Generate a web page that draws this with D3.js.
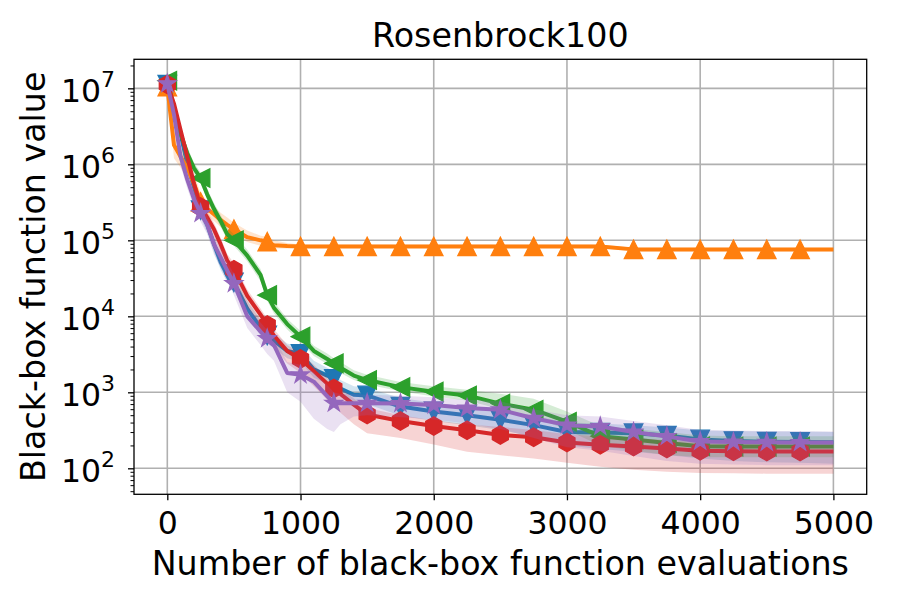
<!DOCTYPE html>
<html>
<head>
<meta charset="utf-8">
<script src="https://cdn.jsdelivr.net/npm/d3@7"></script>
<style>
    body { margin: 0; background: #fff; }
    svg { font-family: "DejaVu Sans", sans-serif; }
</style>
</head>
<body>
<svg id="chart" width="900" height="600"></svg>
<script>
const evals = [0, 50, 100, 150, 200, 250, 300, 350, 400, 450, 500, 600, 700, 750, 800, 900, 1000, 1100, 1200, 1250, 1300, 1400, 1500, 1750, 2000, 2250, 2500, 2750, 3000, 3250, 3500, 3750, 4000, 4250, 4500, 4750, 5000];
const markerEvals = [0, 250, 500, 750, 1000, 1250, 1500, 1750, 2000, 2250, 2500, 2750, 3000, 3250, 3500, 3750, 4000, 4250, 4500, 4750];
const xTicks = [0, 1000, 2000, 3000, 4000, 5000];
const yTicks = [1e2, 1e3, 1e4, 1e5, 1e6, 1e7];

const blueMean = [1.12e7, 5.6e6, 2.5e6, 1.0e6, 5.0e5, 2.5e5, 1.6e5, 8.9e4, 5.2e4, 3.5e4, 2.8e4, 1.26e4, 7.1e3, 5.6e3, 4.8e3, 3.5e3, 3.2e3, 2.0e3, 1.66e3, 1.5e3, 1.12e3, 930, 910, 650, 560, 500, 435, 370, 300, 295, 290, 270, 240, 228, 224, 222, 220];
const blueLo = [1.0e7, 4.6e6, 2.0e6, 8.0e5, 4.0e5, 2.0e5, 1.25e5, 7.0e4, 4.1e4, 2.8e4, 2.2e4, 1.0e4, 5.6e3, 4.4e3, 3.8e3, 2.8e3, 2.5e3, 1.55e3, 1.3e3, 1.15e3, 870, 720, 700, 490, 420, 370, 320, 260, 200, 180, 165, 150, 135, 125, 120, 118, 115];
const blueHi = [1.25e7, 6.8e6, 3.1e6, 1.25e6, 6.2e5, 3.1e5, 2.0e5, 1.1e5, 6.5e4, 4.4e4, 3.5e4, 1.6e4, 9.0e3, 7.0e3, 6.0e3, 4.4e3, 4.0e3, 2.6e3, 2.1e3, 1.9e3, 1.45e3, 1.2e3, 1.15e3, 840, 730, 650, 570, 490, 400, 390, 370, 345, 315, 310, 305, 305, 300];

const orangeMean = [1.05e7, 1.8e6, 1.26e6, 8.9e5, 5.6e5, 3.2e5, 2.6e5, 2.2e5, 1.86e5, 1.6e5, 1.4e5, 1.1e5, 1.0e5, 9.6e4, 8.6e4, 8.4e4, 8.3e4, 8.3e4, 8.3e4, 8.3e4, 8.3e4, 8.3e4, 8.3e4, 8.3e4, 8.3e4, 8.3e4, 8.3e4, 8.3e4, 8.3e4, 8.3e4, 7.6e4, 7.6e4, 7.6e4, 7.6e4, 7.6e4, 7.6e4, 7.6e4];
const orangeLo = [9.5e6, 1.2e6, 9.0e5, 6.5e5, 4.0e5, 2.6e5, 2.1e5, 1.8e5, 1.5e5, 1.3e5, 1.15e5, 9.5e4, 8.5e4, 8.3e4, 7.8e4, 7.8e4, 7.9e4, 7.9e4, 7.9e4, 7.9e4, 7.9e4, 7.9e4, 7.9e4, 7.9e4, 7.9e4, 7.9e4, 7.9e4, 7.9e4, 7.9e4, 7.9e4, 7.2e4, 7.2e4, 7.2e4, 7.2e4, 7.2e4, 7.2e4, 7.2e4];
const orangeHi = [1.15e7, 2.8e6, 1.7e6, 1.2e6, 7.5e5, 4.2e5, 3.3e5, 2.8e5, 2.3e5, 2.0e5, 1.7e5, 1.35e5, 1.15e5, 1.12e5, 1.0e5, 9.2e4, 8.8e4, 8.8e4, 8.8e4, 8.8e4, 8.8e4, 8.8e4, 8.8e4, 8.8e4, 8.8e4, 8.8e4, 8.8e4, 8.8e4, 8.8e4, 8.8e4, 8.0e4, 8.0e4, 8.0e4, 8.0e4, 8.0e4, 8.0e4, 8.0e4];

const greenMean = [1.26e7, 5.6e6, 2.5e6, 1.4e6, 8.9e5, 6.6e5, 4.0e5, 2.6e5, 1.8e5, 1.2e5, 1.0e5, 6.3e4, 3.5e4, 1.9e4, 1.3e4, 7.9e3, 5.4e3, 3.5e3, 2.75e3, 2.4e3, 2.1e3, 1.66e3, 1.45e3, 1.17e3, 1.02e3, 910, 710, 590, 410, 265, 240, 215, 195, 193, 193, 193, 193];
const greenLo = [1.1e7, 4.6e6, 2.1e6, 1.2e6, 7.5e5, 5.6e5, 3.4e5, 2.2e5, 1.5e5, 1.0e5, 8.5e4, 5.3e4, 2.9e4, 1.6e4, 1.1e4, 6.7e3, 4.6e3, 3.0e3, 2.35e3, 2.05e3, 1.8e3, 1.45e3, 1.27e3, 1.03e3, 880, 780, 600, 480, 320, 200, 170, 150, 140, 140, 140, 140, 140];
const greenHi = [1.4e7, 6.8e6, 3.0e6, 1.7e6, 1.05e6, 7.8e5, 4.8e5, 3.1e5, 2.15e5, 1.45e5, 1.2e5, 7.5e4, 4.2e4, 2.3e4, 1.55e4, 9.3e3, 6.4e3, 4.1e3, 3.25e3, 2.8e3, 2.5e3, 1.95e3, 1.7e3, 1.37e3, 1.2e3, 1.08e3, 960, 820, 560, 360, 330, 300, 270, 265, 265, 265, 265];

const redMean = [1.12e7, 6.3e6, 2.8e6, 1.26e6, 5.6e5, 2.75e5, 2.0e5, 1.4e5, 8.9e4, 5.4e4, 4.1e4, 1.86e4, 1.05e4, 7.7e3, 5.6e3, 3.5e3, 2.75e3, 1.9e3, 1.3e3, 1.12e3, 950, 690, 510, 420, 360, 316, 275, 257, 219, 204, 193, 182, 170, 168, 166, 166, 166];
const redLo = [9.5e6, 5.0e6, 2.2e6, 1.0e6, 4.4e5, 2.2e5, 1.55e5, 1.05e5, 6.8e4, 4.0e4, 3.0e4, 1.35e4, 7.5e3, 5.4e3, 3.9e3, 2.4e3, 1.8e3, 1.2e3, 800, 660, 540, 380, 290, 250, 205, 165, 148, 135, 118, 105, 96, 90, 87, 86, 85, 85, 85];
const redHi = [1.3e7, 7.5e6, 3.4e6, 1.5e6, 6.8e5, 3.3e5, 2.4e5, 1.7e5, 1.08e5, 6.6e4, 5.0e4, 2.25e4, 1.27e4, 9.3e3, 6.8e3, 4.2e3, 3.3e3, 2.3e3, 1.55e3, 1.35e3, 1.15e3, 830, 620, 500, 430, 380, 350, 320, 280, 265, 250, 235, 220, 215, 212, 212, 212];

const purpleMean = [1.15e7, 4.5e6, 1.26e6, 6.3e5, 3.5e5, 2.26e5, 1.6e5, 8.9e4, 6.0e4, 4.0e4, 2.7e4, 1.0e4, 6.3e3, 5.1e3, 4.2e3, 1.8e3, 1.7e3, 1.38e3, 890, 720, 720, 720, 720, 715, 680, 620, 590, 455, 370, 355, 300, 263, 226, 222, 220, 219, 219];
const purpleLo = [1.0e7, 3.5e6, 9.5e5, 4.8e5, 2.7e5, 1.75e5, 1.2e5, 6.5e4, 4.4e4, 2.9e4, 1.9e4, 7.0e3, 4.2e3, 3.2e3, 2.6e3, 1.0e3, 750, 450, 330, 300, 380, 480, 500, 470, 440, 390, 330, 250, 190, 170, 145, 125, 115, 112, 110, 110, 110];
const purpleHi = [1.3e7, 5.8e6, 1.7e6, 8.0e5, 4.5e5, 2.9e5, 2.1e5, 1.2e5, 8.0e4, 5.3e4, 3.6e4, 1.35e4, 8.3e3, 6.6e3, 5.4e3, 2.5e3, 2.3e3, 1.85e3, 1.25e3, 1.0e3, 950, 950, 930, 900, 860, 800, 760, 600, 500, 480, 420, 370, 320, 315, 310, 308, 305];

const series = [
    {mean: blueMean, lo: blueLo, hi: blueHi, color: "#1f77b4", marker: "v"},
    {mean: orangeMean, lo: orangeLo, hi: orangeHi, color: "#ff7f0e", marker: "^"},
    {mean: greenMean, lo: greenLo, hi: greenHi, color: "#2ca02c", marker: "<"},
    {mean: redMean, lo: redLo, hi: redHi, color: "#d62728", marker: "h"},
    {mean: purpleMean, lo: purpleLo, hi: purpleHi, color: "#9467bd", marker: "*"}
];

// matplotlib-like marker outlines, s = marker size in px
function markerPath(type, s) {
    const r = s / 2;
    let pts;
    if (type === "^") pts = [[0, -r], [-r, r], [r, r]];
    else if (type === "v") pts = [[0, r], [-r, -r], [r, -r]];
    else if (type === "<") pts = [[-r, 0], [r, -r], [r, r]];
    else if (type === "h") pts = d3.range(6).map(i => {
        const a = Math.PI / 2 + i * Math.PI / 3;
        return [r * Math.cos(a), -r * Math.sin(a)];
    });
    else pts = d3.range(10).map(i => {
        const a = Math.PI / 2 + i * Math.PI / 5, rr = i % 2 ? r * 0.381966 : r;
        return [rr * Math.cos(a), -rr * Math.sin(a)];
    });
    return "M" + pts.map(p => p.join(",")).join("L") + "Z";
}

class convergencePlot {
    constructor(series, rootId, dimension = {width: 900, height: 600},
                padding = {top: 59.3, right: 33.3, bottom: 105.7, left: 134}) {
        this.series = series;
        this.rootId = rootId;
        this.dimension = dimension;
        this.padding = padding;
        this.updateDimensions();
        this.createScale();
        this.render();
    }
    updateDimensions() {
        this.dimension.innerWidth = this.dimension.width - this.padding.left - this.padding.right;
        this.dimension.innerHeight = this.dimension.height - this.padding.top - this.padding.bottom;
    }
    createScale() {
        this.scale = {
            x: d3.scaleLinear().domain([-250, 5250]).range([0, this.dimension.innerWidth]),
            y: d3.scaleLog().domain([45.5, 2.41e7]).range([this.dimension.innerHeight, 0])
        };
    }
    render() {
        const scale = this.scale;
        const svg = d3.select(`#${this.rootId}`)
            .append("g")
            .attr("id", `${this.rootId}-g`)
            .attr("transform", `translate(${this.padding.left}, ${this.padding.top})`);

        svg.append("clipPath")
            .attr("id", "plot-clip")
            .append("rect")
            .attr("width", this.dimension.innerWidth)
            .attr("height", this.dimension.innerHeight);

        this._grid(svg);

        const area = d3.area()
            .x((d, i) => scale.x(evals[i]))
            .y0(d => scale.y(d[0]))
            .y1(d => scale.y(d[1]));
        const line = d3.line()
            .x((d, i) => scale.x(evals[i]))
            .y(d => scale.y(d));

        const plot = svg.append("g").attr("clip-path", "url(#plot-clip)");

        this.series.forEach(s => {
            const g = plot.append("g").attr("class", "series");
            g.append("path")
                .attr("d", area(s.lo.map((v, i) => [v, s.hi[i]])))
                .attr("fill", s.color)
                .attr("fill-opacity", 0.2)
                .attr("stroke", "none");
            g.append("path")
                .attr("d", line(s.mean))
                .attr("fill", "none")
                .attr("stroke", s.color)
                .attr("stroke-width", 4)
                .attr("stroke-linejoin", "round");
            g.selectAll(".mk")
                .data(markerEvals)
                .enter()
                .append("path")
                .attr("class", "mk")
                .attr("transform", e => `translate(${scale.x(e)}, ${scale.y(s.mean[evals.indexOf(e)])})`)
                .attr("d", markerPath(s.marker, 18.5))
                .attr("fill", s.color)
                .attr("stroke", s.color)
                .attr("stroke-width", 1.3)
                .attr("stroke-linejoin", "miter");
        });

        this._axis(svg);
        this._title(svg);
    }
    _grid(svg) {
        const w = this.dimension.innerWidth, h = this.dimension.innerHeight;
        svg.append("g").selectAll("line").data(xTicks).enter().append("line")
            .attr("x1", d => this.scale.x(d)).attr("x2", d => this.scale.x(d))
            .attr("y1", 0).attr("y2", h)
            .attr("stroke", "#b0b0b0").attr("stroke-width", 1.6);
        svg.append("g").selectAll("line").data(yTicks).enter().append("line")
            .attr("y1", d => this.scale.y(d)).attr("y2", d => this.scale.y(d))
            .attr("x1", 0).attr("x2", w)
            .attr("stroke", "#b0b0b0").attr("stroke-width", 1.6);
    }
    _axis(svg) {
        const w = this.dimension.innerWidth, h = this.dimension.innerHeight;

        const x = d3.axisBottom(this.scale.x)
            .tickValues(xTicks)
            .tickSize(6)
            .tickFormat(d3.format("d"));
        const gx = svg.append("g")
            .attr("transform", `translate(0,${h})`)
            .call(x);
        gx.selectAll("text").attr("y", 39.7).attr("dy", null);

        // minor ticks on the log axis
        const minor = [];
        [10, 100, 1000, 1e4, 1e5, 1e6, 1e7].forEach(p => {
            [2, 3, 4, 5, 6, 7, 8, 9].forEach(k => {
                if (p * k > 45.5 && p * k < 2.41e7) minor.push(p * k);
            });
        });
        svg.append("g")
            .call(d3.axisLeft(this.scale.y).tickValues(minor).tickSize(3.5).tickFormat(""))
            .call(g => g.select(".domain").remove())
            .selectAll("line").attr("stroke-width", 1);

        const gy = svg.append("g")
            .call(d3.axisLeft(this.scale.y).tickValues(yTicks).tickSize(6).tickPadding(13));
        gy.selectAll(".tick text").each(function (d) {
            const t = d3.select(this).text("").attr("dy", 12.7);
            t.append("tspan").text("10");
            t.append("tspan").attr("dy", -14.5).attr("font-size", 22).text(Math.round(Math.log10(d)));
        });

        [gx, gy].forEach(g => {
            g.attr("font-size", 31.5).attr("font-family", "DejaVu Sans");
            g.selectAll(".tick line").attr("stroke-width", 1.3);
            g.select(".domain").remove();
        });

        svg.append("rect")
            .attr("width", w).attr("height", h)
            .attr("fill", "none").attr("stroke", "#000").attr("stroke-width", 1.3);

        svg.append("text")
            .attr("x", w / 2)
            .attr("y", h + 80.7)
            .attr("text-anchor", "middle")
            .attr("font-size", 33.3)
            .text("Number of black-box function evaluations");

        svg.append("text")
            .attr("transform", `translate(${45 - this.padding.left},${h / 2})rotate(-90)`)
            .attr("text-anchor", "middle")
            .attr("font-size", 33.3)
            .text("Black-box function value");
    }
    _title(svg) {
        svg.append("text")
            .attr("x", this.dimension.innerWidth / 2)
            .attr("y", 46.7 - this.padding.top)
            .attr("text-anchor", "middle")
            .attr("font-size", 33.3)
            .text("Rosenbrock100");
    }
}

new convergencePlot(series, "chart");
</script>
</body>
</html>
